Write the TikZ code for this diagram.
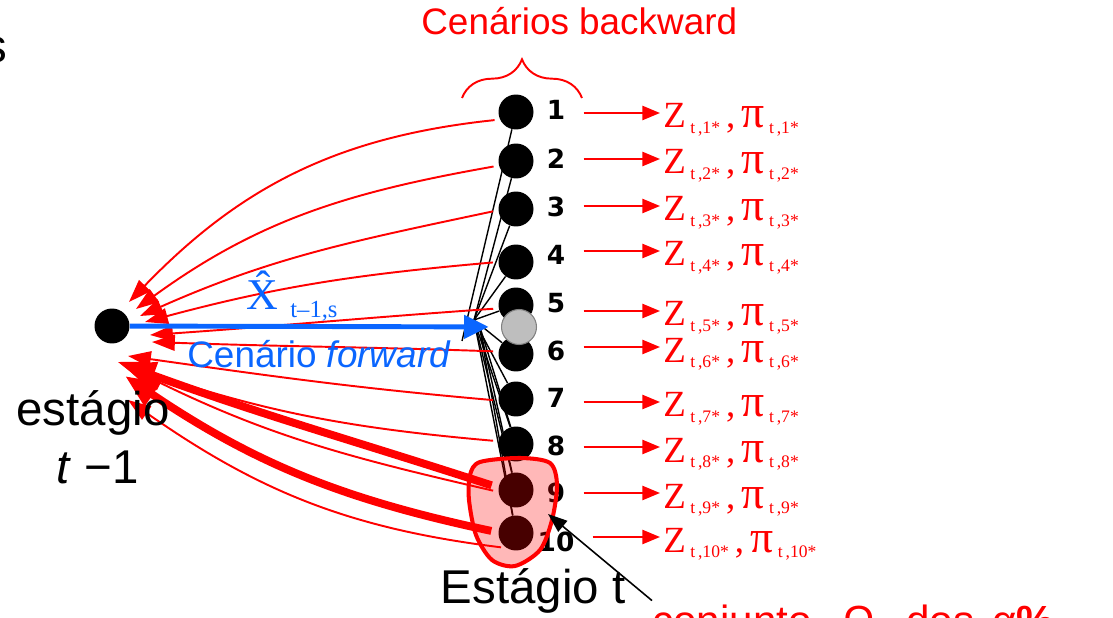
\documentclass[tikz,border=0pt]{standalone}
\usepackage{fontspec}
\setmainfont{Liberation Sans}
\newfontfamily\tmsfont{Liberation Serif}
\newfontfamily\numfont{DejaVu Sans}
\usetikzlibrary{positioning,calc,arrows.meta,decorations.pathreplacing,backgrounds}
\definecolor{fwdblue}{RGB}{10,102,255}
\definecolor{dotgray}{RGB}{190,190,190}
\definecolor{rimgray}{RGB}{128,128,128}

% Z and pi of one backward scenario
\newcommand{\zsub}[1]{\hspace{2.5pt}\raisebox{-3pt}{\fontsize{10}{10}\selectfont t\,,#1*}}
\newcommand{\zpair}[1]{{\tmsfont\fontsize{21}{21}\selectfont Z\zsub{#1}\,,\,{\fontsize{26}{26}\selectfont π}\zsub{#1}}}

\begin{document}
\begin{tikzpicture}[x=0.02cm, y=0.02cm,
    dot/.style={circle, fill=black, minimum size=0.7cm, inner sep=0pt},
    num/.style={font=\numfont\bfseries\fontsize{15}{15}\selectfont, inner sep=0pt},
    zlab/.style={red, anchor=base west, inner sep=0pt},
    zarr/.style={red, line width=1.2pt, -{Triangle[length=10pt,width=8pt]}},
    back/.style={red, line width=1.1pt, shorten <=3pt, -{Triangle[length=13pt,width=9pt]}},
    backbold/.style={red, line width=4.5pt, shorten <=4pt, -{Triangle[length=19pt,width=15pt]}},
    fan/.style={line width=0.8pt},
    fwd/.style={fwdblue, line width=2.8pt, shorten >=7pt, -{Triangle[length=14pt,width=13pt]}},
    bigtxt/.style={font=\fontsize{27}{27}\selectfont, inner sep=0pt},
    blob/.style={fill=red, fill opacity=0.28, draw=red, line width=2.3pt},
    ptr/.style={line width=0.9pt, -{Triangle[length=11pt,width=8pt]}}
  ]
  \useasboundingbox (0,0) rectangle (1113,-618);

  % stage t-1 and the backward scenarios of stage t
  \node[dot] (s) at (112,-326) {};
  \foreach \i/\y in {1/112,2/161,3/209,4/262,5/305,6/354,7/399,8/444,9/490,10/533}
    \node[dot] (b\i) at (516,-\y) {};
  \node[dot, fill=dotgray, draw=rimgray, line width=0.6pt] (g) at (519,-327) {};

  % fan of the forward state
  \coordinate (fan) at (474,-320);
  \coordinate (fanlow) at (462,-341);
  \coordinate (fan2) at (479,-324);
  \begin{pgfonlayer}{background}
    \foreach \i in {2,...,10} \draw[fan] (fan) -- (b\i);
    \draw[fan] (fanlow) -- (b1);
    \foreach \i in {8,9,10} \draw[fan] (fan2) -- (b\i);
  \end{pgfonlayer}

  % numbers, Z and pi
  \foreach \i/\ny/\ay in {1/110/113, 2/159/159, 3/207/206, 4/255/251, 5/303/311,
                          6/351/347, 7/398/402, 8/446/447, 9/493/493, 10/542/537} {
    \node[num] (k\i) at (556,-\ny) {\i};
    \node[zlab] (z\i) at (663,{-\ay-15}) {\zpair{\i}};
    \draw[zarr] ($(k\i.east)+(18,{\ny-\ay})$) -- ($(z\i.base west)+(-3,15)$);
  }

  % cuts back to stage t-1
  \foreach \i/\st/\o/\n/\dx/\dy in {1/205/186/46/17/24, 2/195/190/36/24/17,
      3/184/192/24/28/10, 4/180/185/15/33/4, 5/191/184/4/38/-9, 6/172/178/-2/40/-16,
      7/185/175/-8/16/-30, 8/171/175/-19/6/-36, 9/186/167/-26/28/-47, 10/237/173/-35/16/-74}
    \draw[back] (b\i.\st) to[out=\o,in=\n] ($(s)+(\dx,\dy)$);
  \foreach \i/\st/\o/\n/\dx/\dy in {9/172/162/-20/10/-38, 10/178/168/-34/13/-50}
    \draw[backbold] (b\i.\st) to[out=\o,in=\n] ($(s)+(\dx,\dy)$);

  % forward scenario
  \draw[fwd] (s) -- (g);
  \node[fwdblue, anchor=base west, inner sep=0pt] (xhat) at (246,-310)
    {\tmsfont\fontsize{25}{25}\selectfont \^{X}\hspace{7pt}\raisebox{-4.5pt}{\fontsize{14}{14}\selectfont t–1,s}};
  \node[fwdblue, anchor=base west, inner sep=0pt, font=\fontsize{21}{21}\selectfont] (fwdlbl) at (187,-368)
    {Cenário \textit{forward}};

  % titles
  \node[red, anchor=base west, inner sep=0pt, font=\fontsize{21}{21}\selectfont] (bwtitle) at (421,-35)
    {Cenários backward};
  \draw[red, line width=1.1pt, decorate, decoration={brace, amplitude=22pt}] (462,-98) -- (582,-98);
  \node[bigtxt, anchor=base east] (cut) at (8,-63) {s};
  \node[bigtxt, anchor=base] (stg) at (93,-425) {estágio};
  \node[bigtxt, anchor=base] (stgt) at (98,-483) {\textit{t} −1};
  \node[bigtxt, anchor=base] (stgb) at (533,-603) {Estágio t};

  % worst alpha percent set
  \path[blob] plot[smooth cycle] coordinates {(480,-462) (520,-458) (550,-463) (557,-485)
    (552,-520) (540,-550) (515,-566) (492,-560) (476,-535) (469,-500) (470,-475)};
  \coordinate (omtip) at (548,-514);
  \node[red, anchor=base west, inner sep=0pt, font=\fontsize{24}{24}\selectfont] (conj) at (652,-635)
    {conjunto\hspace{18pt}Ω\hspace{18pt}dos\hspace{10pt}α\textbf{\%}};
  \draw[ptr] ([yshift=2pt]conj.north west) -- (omtip);
\end{tikzpicture}
\end{document}
